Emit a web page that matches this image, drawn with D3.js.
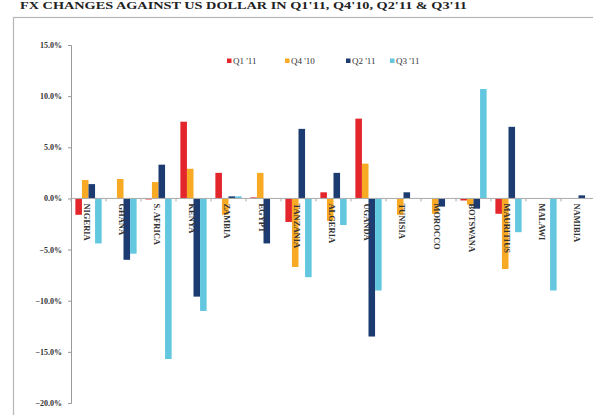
<!DOCTYPE html>
<html>
<head>
<meta charset="utf-8">
<script src="https://cdn.jsdelivr.net/npm/d3@7"></script>
<style>
  html, body { margin: 0; padding: 0; background: #fff; }
  svg { display: block; }
  text { font-family: "Liberation Serif", "DejaVu Serif", serif; }
</style>
</head>
<body>
<svg id="chart" width="593" height="415"></svg>
<script>
// Quarterly FX change against the US dollar, per country (percent)
const countries = ["NIGERIA", "GHANA", "S. AFRICA", "KENYA", "ZAMBIA", "EGYPT", "TANZANIA",
  "ALGERIA", "UGANDA", "TUNISIA", "MOROCCO", "BOTSWANA", "MAURITIUS", "MALAWI", "NAMIBIA"];
const seriesNames = ["Q1 '11", "Q4 '10", "Q2 '11", "Q3 '11"];
const q1_11 = [-1.6, 0.0, -0.1, 7.5, 2.5, 0.1, -2.3, 0.6, 7.8, 0.0, 0.0, -0.2, -1.5, 0.0, 0.0];
const q4_10 = [1.8, 1.9, 1.6, 2.9, -1.6, 2.5, -6.7, -2.2, 3.4, -1.6, -1.5, -0.6, -6.9, 0.0, 0.0];
const q2_11 = [1.4, -6.0, 3.3, -9.6, 0.2, -4.4, 6.8, 2.5, -13.5, 0.6, -0.8, -1.0, 7.0, 0.0, 0.3];
const q3_11 = [-4.4, -5.4, -15.7, -11.0, 0.2, 0.0, -7.7, -2.6, -9.0, 0.0, 0.0, 10.7, -3.3, -9.0, 0.0];
const yTicks = [15, 10, 5, 0, -5, -10, -15, -20];
const colors = ["#e3262c", "#f8aa24", "#1c3b70", "#63c7e0"];

const series = [q1_11, q4_10, q2_11, q3_11];
const svg = d3.select("#chart");

// Title above the frame
svg.append("text")
  .attr("x", 20).attr("y", 9)
  .attr("font-size", 10.5).attr("font-weight", "bold").attr("fill", "#222")
  .attr("textLength", 447).attr("lengthAdjust", "spacingAndGlyphs")
  .text("FX CHANGES AGAINST US DOLLAR IN Q1'11, Q4'10, Q2'11 & Q3'11");

// Chart frame
svg.append("rect")
  .attr("x", 13.5).attr("y", 17.5).attr("width", 600).attr("height", 420)
  .attr("fill", "#fff").attr("stroke", "#b5b5b5").attr("stroke-width", 1.2);

const y = d3.scaleLinear().domain([-20, 15]).range([403, 45]);
const x0 = d3.scaleBand().domain(countries).range([71, 596]).paddingInner(0.25).paddingOuter(0.125);
const x1 = d3.scaleBand().domain(d3.range(4)).range([0, x0.bandwidth()]);

// Y axis
const yAxis = d3.axisLeft(y).tickValues(yTicks).tickSize(3).tickFormat(d => d3.format(".1f")(d) + "%");
const gy = svg.append("g").attr("transform", "translate(71,0)").call(yAxis);
gy.select(".domain").attr("stroke", "#999");
gy.selectAll(".tick line").attr("stroke", "#999");
gy.selectAll(".tick text")
  .attr("font-size", 8).attr("font-weight", "bold").attr("fill", "#333")
  .attr("font-family", "Liberation Serif, serif").attr("x", -9);

// Bars
const groups = svg.append("g").selectAll("g").data(countries).join("g")
  .attr("transform", d => `translate(${x0(d)},0)`);
groups.selectAll("rect")
  .data((c, i) => series.map((s, k) => ({ k, v: s[i] })))
  .join("rect")
  .attr("x", d => x1(d.k))
  .attr("width", x1.bandwidth())
  .attr("y", d => y(Math.max(0, d.v)))
  .attr("height", d => Math.abs(y(d.v) - y(0)))
  .attr("fill", d => colors[d.k]);

// Zero line with category ticks
svg.append("line")
  .attr("x1", 71).attr("x2", 596).attr("y1", y(0)).attr("y2", y(0))
  .attr("stroke", "#aaa").attr("stroke-width", 1);
const step = x0.step();
svg.append("g").selectAll("line").data(d3.range(countries.length + 1)).join("line")
  .attr("x1", i => 71 + i * step).attr("x2", i => 71 + i * step)
  .attr("y1", y(0)).attr("y2", y(0) + 3)
  .attr("stroke", "#aaa");

// Category labels, written downward from the zero line
svg.append("g").selectAll("text").data(countries).join("text")
  .attr("transform", d => `translate(${x0(d) + x0.bandwidth() / 2 - 2},${y(0) + 5}) rotate(90)`)
  .attr("dy", "0.35em")
  .attr("font-size", 8.5).attr("font-weight", "bold").attr("fill", "#333")
  .text(d => d);

// Legend
const legendX = [227, 285, 346, 390];
const lg = svg.append("g").selectAll("g").data(seriesNames).join("g")
  .attr("transform", (d, i) => `translate(${legendX[i]},61)`);
lg.append("rect").attr("x", 0).attr("y", -2.5).attr("width", 4.5).attr("height", 4.5)
  .attr("fill", (d, i) => colors[i]);
lg.append("text").attr("x", 6).attr("y", 0).attr("dy", "0.35em")
  .attr("font-size", 9).attr("fill", "#333").text(d => d);
</script>
</body>
</html>
